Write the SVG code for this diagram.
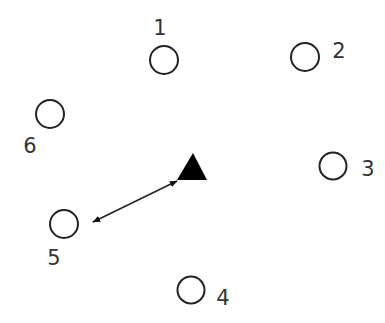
<svg xmlns="http://www.w3.org/2000/svg" width="385" height="323" viewBox="0 0 385 323">
<style>
.n circle{fill:none;stroke:#222;stroke-width:2}
.lbl{font-family:"DejaVu Sans",sans-serif;font-size:21px;fill:#333;text-anchor:middle}
</style>
<defs>
<marker id="ah" viewBox="0 0 10 10" refX="9" refY="5" markerWidth="8" markerHeight="8" orient="auto-start-reverse" markerUnits="userSpaceOnUse">
<path d="M0,1 L10,5 L0,9 z" fill="#111"/>
</marker>
</defs>
<rect width="385" height="323" fill="#fff"/>
<g id="node1" class="n"><circle cx="164" cy="60" r="14"/><text class="lbl" x="160" y="35">1</text></g>
<g id="node2" class="n"><circle cx="305" cy="57" r="14"/><text class="lbl" x="339" y="58">2</text></g>
<g id="node3" class="n"><circle cx="333" cy="166" r="13.5"/><text class="lbl" x="368" y="176">3</text></g>
<g id="node4" class="n"><circle cx="191" cy="290" r="13.5"/><text class="lbl" x="223" y="305">4</text></g>
<g id="node5" class="n"><circle cx="64" cy="224" r="14"/><text class="lbl" x="54" y="265">5</text></g>
<g id="node6" class="n"><circle cx="50" cy="114" r="14"/><text class="lbl" x="30" y="153">6</text></g>
<g id="robot"><polygon points="193,153 177,180 207,180" fill="#000"/></g>
<g id="connectors">
<line x1="93" y1="222" x2="177" y2="181" stroke="#222" stroke-width="1.6" marker-start="url(#ah)" marker-end="url(#ah)"/>
</g>
</svg>
